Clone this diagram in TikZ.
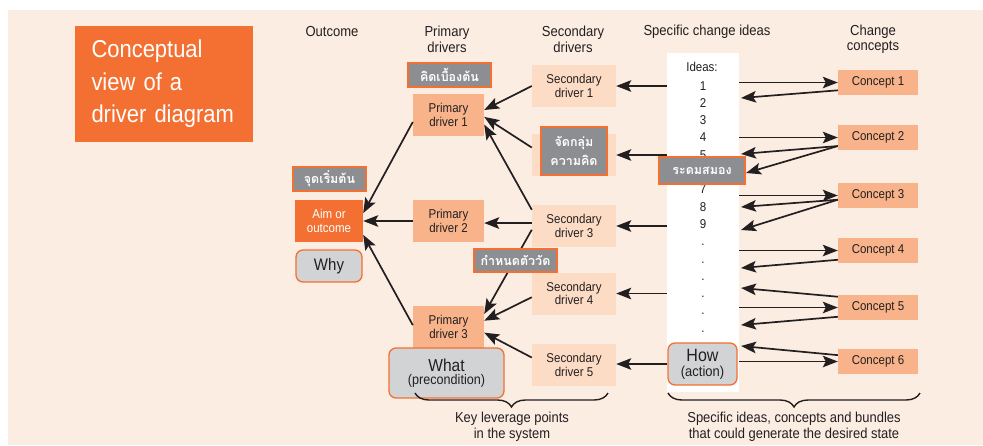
\documentclass[tikz,border=0pt]{standalone}
\usepackage{fontspec}
\setmainfont{Liberation Sans}[FakeStretch=0.9]
\newfontfamily\thaifont[Script=Thai]{Loma}
\usetikzlibrary{arrows.meta,decorations.pathreplacing}

\definecolor{bgpeach}{HTML}{FCEDE3}
\definecolor{lightpeach}{HTML}{FDDCC5}
\definecolor{salmon}{HTML}{F8B38A}
\definecolor{brandorange}{HTML}{F37032}
\definecolor{labgrey}{HTML}{8D8E91}
\definecolor{qgrey}{HTML}{D1D3D4}
\definecolor{ink}{HTML}{231F20}

\begin{document}
\begin{tikzpicture}[x=1pt,y=-1pt,
  every node/.style={text=ink},
  hdr/.style={align=center, font=\fontsize{14.5}{15.6}\selectfont},
  boxtext/.style={inner sep=0pt, align=center, font=\fontsize{12.8}{13.6}\selectfont},
  primary/.style={boxtext, fill=salmon, minimum width=71pt, minimum height=42pt},
  secondary/.style={boxtext, fill=lightpeach, minimum width=84pt, minimum height=42pt},
  concept/.style={boxtext, fill=salmon, minimum width=80pt, minimum height=25pt},
  idea/.style={anchor=base, inner sep=0pt, font=\fontsize{12.8}{13.6}\selectfont},
  thailabel/.style={fill=labgrey, draw=brandorange, line width=1.3pt, text=white,
    inner sep=0pt, align=center, font=\thaifont\bfseries\fontsize{12.5}{19}\selectfont},
  question/.style={fill=qgrey, draw=brandorange, line width=1.3pt, rounded corners=7pt,
    inner sep=0pt, align=center},
  arr/.style={draw=ink, line width=1.7pt, -{Stealth[length=15pt,width=11.5pt,inset=3pt]}},
  bracket/.style={draw=ink, line width=1.4pt, decorate, decoration={brace, amplitude=14pt}},
  caption/.style={align=center, font=\fontsize{14.4}{16}\selectfont}
]
\useasboundingbox (0,0) rectangle (983,445);
\fill[white] (0,0) rectangle (983,445);
\fill[bgpeach] (8,10) rectangle (983,445);

% title block
\node[fill=brandorange, text=white, minimum width=178pt, minimum height=116pt,
      text width=145pt, inner xsep=16.5pt, inner ysep=0pt, align=left,
      font=\fontsize{24.4}{32.5}\selectfont] (title) at (164,84)
  {Conceptual\\view of a\\driver diagram};

% column headings
\node[hdr] (hOutcome) at (332,32) {Outcome};
\node[hdr] (hPrimary) at (447,39.2) {Primary\\drivers};
\node[hdr] (hSecondary) at (573,39.2) {Secondary\\drivers};
\node[hdr] (hIdeas) at (707,32) {Specific change ideas};
\node[hdr] (hConcepts) at (873,39.2) {Change\\concepts};

% column of change ideas
\node[fill=white, minimum width=72pt, minimum height=339pt, inner sep=0pt] (ideas) at (703,222.5) {};
\node[idea] (iHead) at (702,71.5) {Ideas:};
\node[idea] (i1) at (703,90) {1};
\node[idea] (i2) at (703,107.3) {2};
\node[idea] (i3) at (703,124.6) {3};
\node[idea] (i4) at (703,141.9) {4};
\node[idea] (i5) at (703,159.2) {5};
\node[idea] (i7) at (703,193.8) {7};
\node[idea] (i8) at (703,211.1) {8};
\node[idea] (i9) at (703,228.4) {9};
\node[idea] (d1) at (703,245.7) {.};
\node[idea] (d2) at (703,263) {.};
\node[idea] (d3) at (703,280.3) {.};
\node[idea] (d4) at (703,297.6) {.};
\node[idea] (d5) at (703,314.9) {.};
\node[idea] (d6) at (703,332.2) {.};

% outcome
\node[boxtext, fill=brandorange, text=white, minimum width=68pt, minimum height=42pt] (aim) at (329,221) {Aim or\\outcome};
\node[question, minimum width=66pt, minimum height=32pt, font=\fontsize{16.7}{18}\selectfont] (why) at (329,266) {Why};

% primary drivers
\node[primary] (p1) at (448.5,115) {Primary\\driver 1};
\node[primary] (p2) at (448.5,221) {Primary\\driver 2};
\node[primary] (p3) at (448.5,327) {Primary\\driver 3};

% secondary drivers
\node[secondary] (s1) at (574,86) {Secondary\\driver 1};
\node[secondary] (s2) at (574,155) {};
\node[secondary] (s3) at (574,226) {Secondary\\driver 3};
\node[secondary] (s4) at (574,293.5) {Secondary\\driver 4};
\node[secondary] (s5) at (574,365) {Secondary\\driver 5};

% change concepts
\node[concept] (c1) at (878,82.5) {Concept 1};
\node[concept] (c2) at (878,137.5) {Concept 2};
\node[concept] (c3) at (878,195.5) {Concept 3};
\node[concept] (c4) at (878,250.5) {Concept 4};
\node[concept] (c5) at (878,307.5) {Concept 5};
\node[concept] (c6) at (878,361.5) {Concept 6};

% what / how
\node[question, minimum width=115pt, minimum height=50pt] (what) at (446.5,373)
  {{\fontsize{17.3}{19}\selectfont What}\\[1pt]{\fontsize{14}{15}\selectfont (precondition)}};
\node[question, minimum width=69pt, minimum height=42pt] (how) at (702.5,364)
  {{\fontsize{17.8}{19}\selectfont How}\\[3pt]{\fontsize{14.4}{15}\selectfont (action)}};

% ends of the concept arrows on the idea column
\coordinate (t1) at (741,98);
\coordinate (t2a) at (741,154);
\coordinate (t2b) at (746,173);
\coordinate (t3a) at (741,207);
\coordinate (t3b) at (741,230);
\coordinate (t4) at (741,268);
\coordinate (t5a) at (741,288);
\coordinate (t5b) at (741,325);
\coordinate (t6) at (741,346);

% primary drivers to the aim
\draw[arr] (p1.191) -- (aim.13);
\draw[arr] (p2.west) -- (aim.east);
\draw[arr] (p3.177) -- (aim.-22);

% secondary drivers to primary drivers
\draw[arr] (s1.west) -- (p1.8);
\draw[arr] (s2.170) -- (p1.-3);
\draw[arr] (s3.159) -- (p1.-15);
\draw[arr] (s3.176) -- (s3.176 -| p2.east);
\draw[arr] (s3.185) -- (p3.20);
\draw[arr] (s4.185) -- (p3.10);
\draw[arr] (s5.170) -- (p3.-9);

% ideas to secondary drivers
\draw[arr] (s1.east -| ideas.west) -- (s1.east);
\draw[arr] (s2.east -| ideas.west) -- (s2.east);
\draw[arr] (s3.east -| ideas.west) -- (s3.east);
\draw[arr] (s4.east -| ideas.west) -- (s4.east);
\draw[arr] (how.west) -- (how.west -| s5.east);

% ideas to concepts
\draw[arr] (c1.west -| ideas.east) -- (c1.west);
\draw[arr] (c2.west -| ideas.east) -- (c2.west);
\draw[arr] (c3.west -| ideas.east) -- (c3.west);
\draw[arr] (c4.west -| ideas.east) -- (c4.west);
\draw[arr] (c5.west -| ideas.east) -- (c5.west);
\draw[arr] (c6.west -| ideas.east) -- (c6.west);

% concepts back to ideas
\draw[arr] (c1.191) -- (t1);
\draw[arr] (c2.192) -- (t2a);
\draw[arr] (c2.192) -- (t2b);
\draw[arr] (c3.186) -- (t3a);
\draw[arr] (c3.186) -- (t3b);
\draw[arr] (c4.193) -- (t4);
\draw[arr] (c5.165) -- (t5a);
\draw[arr] (c5.193) -- (t5b);
\draw[arr] (c6.171) -- (t6);

% Thai labels on top
\node[thailabel, minimum width=83pt, minimum height=24pt] (l1) at (449.5,75) {คิดเบื้องต้น};
\node[thailabel, minimum width=66pt, minimum height=48pt] (l2) at (574,151) {จัดกลุ่ม\\ความคิด};
\node[thailabel, minimum width=73pt, minimum height=24pt] (l3) at (329.5,179) {จุดเริ่มต้น};
\node[thailabel, minimum width=83pt, minimum height=23pt] (l4) at (515.5,260.5) {กำหนดตัววัด};
\node[thailabel, minimum width=86pt, minimum height=27pt] (l5) at (702,170.5) {ระดมสมอง};

% braces and their captions
\coordinate (bl1) at (415,393);
\coordinate (br1) at (608,393);
\coordinate (bl2) at (668,393);
\coordinate (br2) at (920,393);
\draw[bracket] (br1) -- (bl1);
\draw[bracket] (br2) -- (bl2);
\node[caption] (cap1) at (512,427) {Key leverage points\\in the system};
\node[caption] (cap2) at (794,427) {Specific ideas, concepts and bundles\\that could generate the desired state};
\end{tikzpicture}
\end{document}
